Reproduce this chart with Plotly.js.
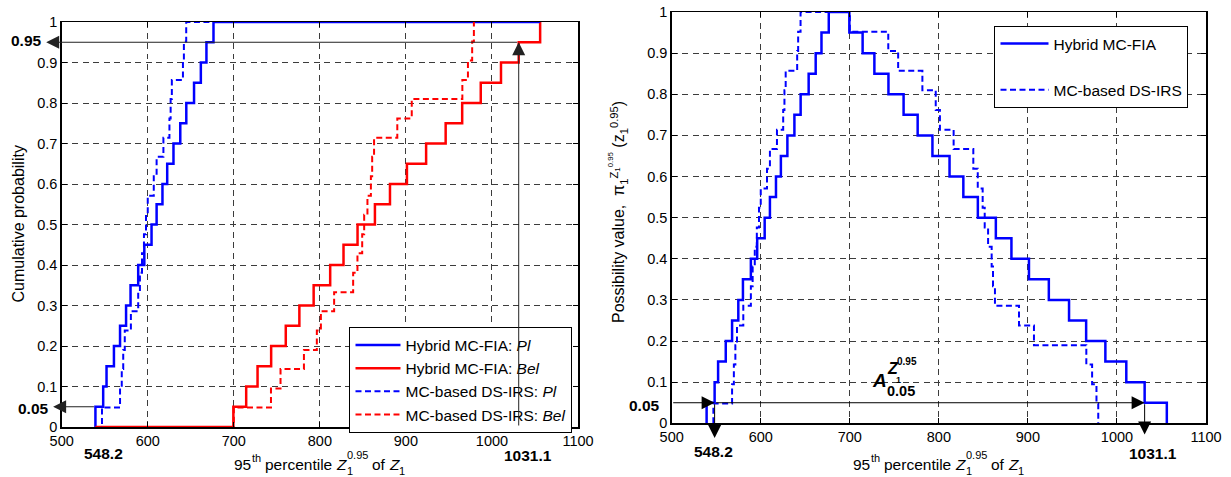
<!DOCTYPE html>
<html><head><meta charset="utf-8">
<script src="https://cdn.plot.ly/plotly-3.0.1.min.js"></script>
<style>html,body{margin:0;padding:0;background:#fff}#chart{width:1231px;height:477px}</style>
</head><body><div id="chart"></div>
<script>
// ---------------- data ----------------
// sorted sample values (step positions) of the 95th percentile of Z1
const plHybrid  = [539.2,548.2,552.1,560.7,567.8,574.8,580.0,588.9,596.0,604.4,610.3,617.1,622.6,629.9,637.8,644.8,653.8,661.7,668.2,676.4];
const belHybrid = [699.5,714.4,727.6,743.4,760.4,776.2,792.8,812.0,827.5,843.8,864.0,881.5,901.2,923.5,946.2,965.4,987.0,1010.5,1031.1,1056.0];
const plDsIrs   = [546.8,567.8,569.8,571.5,573.3,580.4,588.9,590.9,593.3,595.6,598.0,600.0,607.0,610.3,618.2,625.2,626.6,628.0,640.9,642.0,644.7];
const belDsIrs  = [700.0,743.2,754.3,781.5,796.5,801.2,816.6,838.7,843.7,849.2,851.5,855.3,859.3,860.8,863.0,890.0,906.8,965.6,972.1,977.0,979.0];
// probability levels reached at each step
const levels20 = [0.05,0.10,0.15,0.20,0.25,0.30,0.35,0.40,0.45,0.50,0.55,0.60,0.65,0.70,0.75,0.80,0.85,0.90,0.95,1.00];
const fall20   = [0.95,0.90,0.85,0.80,0.75,0.70,0.65,0.60,0.55,0.50,0.45,0.40,0.35,0.30,0.25,0.20,0.15,0.10,0.05,0.00];
const levels21 = [0.048,0.095,0.143,0.190,0.238,0.286,0.333,0.381,0.429,0.476,0.524,0.571,0.619,0.667,0.714,0.762,0.810,0.857,0.905,0.952,1.000];
const fall21   = [0.952,0.905,0.857,0.810,0.762,0.714,0.667,0.619,0.571,0.524,0.476,0.429,0.381,0.333,0.286,0.238,0.190,0.143,0.095,0.048,0.000];
// annotated values
const alphaHigh = 0.95, alphaLow = 0.05;
const zLow = 548.2, zHigh = 1031.1;
const xTicks = [500,600,700,800,900,1000,1100];
const legendLeft = ['Hybrid MC-FIA: <i>Pl</i>','Hybrid MC-FIA: <i>Bel</i>','MC-based DS-IRS: <i>Pl</i>','MC-based DS-IRS: <i>Bel</i>'];
const legendRight = ['Hybrid MC-FIA','MC-based DS-IRS'];

// ---------------- layout helpers ----------------
const W = 1231, H = 477;
const FONT = '"Liberation Sans", Arial, Helvetica, sans-serif';
const X = p => p / W, Y = p => 1 - p / H;
const BLUE = '#0000ff', RED = '#ff0000';
const DASH = '6px,3.5px';
const xStart = plHybrid[0], xEnd = belHybrid[belHybrid.length - 1];

const traces = [
  {x:[xStart, ...plHybrid, xEnd], y:[0, ...levels20, 1], xaxis:'x', yaxis:'y', mode:'lines',
   line:{shape:'hv', color:BLUE, width:2.5}, name:legendLeft[0], legend:'legend'},
  {x:[xStart, ...belHybrid], y:[0, ...levels20], xaxis:'x', yaxis:'y', mode:'lines',
   line:{shape:'hv', color:RED, width:2.5}, name:legendLeft[1], legend:'legend'},
  {x:[xStart, ...plDsIrs, xEnd], y:[0, ...levels21, 1], xaxis:'x', yaxis:'y', mode:'lines',
   line:{shape:'hv', color:BLUE, width:2, dash:DASH}, name:legendLeft[2], legend:'legend'},
  {x:[xStart, ...belDsIrs], y:[0, ...levels21], xaxis:'x', yaxis:'y', mode:'lines',
   line:{shape:'hv', color:RED, width:2, dash:DASH}, name:legendLeft[3], legend:'legend'},
  {x:[plHybrid[0], ...plHybrid, ...belHybrid], y:[0, ...levels20, ...fall20], xaxis:'x2', yaxis:'y2', mode:'lines',
   line:{shape:'hv', color:BLUE, width:2.5}, name:legendRight[0], legend:'legend2', legendgroup:'g1'},
  {x:[plDsIrs[0], ...plDsIrs, ...belDsIrs], y:[0, ...levels21, ...fall21], xaxis:'x2', yaxis:'y2', mode:'lines',
   line:{shape:'hv', color:BLUE, width:2, dash:DASH}, name:legendRight[1], legend:'legend2', legendgroup:'g2'}
];

const axCommon = {
  showgrid:true, gridcolor:'#3c3c3c', gridwidth:1, griddash:'6px,4.5px', zeroline:false,
  showline:true, linecolor:'#000', linewidth:1.5, mirror:'allticks', ticks:'inside', ticklen:5,
  tickcolor:'#000', tickwidth:1, tickfont:{family:FONT, size:14.5, color:'#000'}, fixedrange:true, automargin:false
};
const layout = {
  width:W, height:H, margin:{l:0,r:0,t:0,b:0}, paper_bgcolor:'#fff', plot_bgcolor:'#fff',
  font:{family:FONT, color:'#000'}, showlegend:true,
  xaxis:Object.assign({}, axCommon, {domain:[X(61.7), X(578)], range:[500,1100], tickvals:xTicks, anchor:'y'}),
  yaxis:Object.assign({}, axCommon, {domain:[Y(427), Y(22)], range:[0,1], dtick:0.1, anchor:'x'}),
  xaxis2:Object.assign({}, axCommon, {domain:[X(671.7), X(1206)], range:[500,1100], tickvals:xTicks, anchor:'y2'}),
  yaxis2:Object.assign({}, axCommon, {domain:[Y(423.3), Y(12)], range:[0,1], dtick:0.1, anchor:'x2'}),
  legend:{x:X(349.3), y:Y(327.3), xanchor:'left', yanchor:'top', bgcolor:'#fff', bordercolor:'#000', borderwidth:1.2,
          font:{family:FONT, size:15.5, color:'#000'}, itemwidth:45, tracegroupgap:0},
  legend2:{x:X(994.3), y:Y(25.7), xanchor:'left', yanchor:'top', bgcolor:'#fff', bordercolor:'#000', borderwidth:1.2,
          font:{family:FONT, size:15.5, color:'#000'}, itemwidth:48, tracegroupgap:23},
  annotations:[], shapes:[]
};
const A = layout.annotations;

// arrows
function arrow(xr, yr, x, y, ax, ay, color){
  A.push({xref:xr, yref:yr, axref:xr, ayref:yr, x:x, y:y, ax:ax, ay:ay, text:'', showarrow:true,
          arrowhead:2, arrowsize:2.6, arrowwidth:1, arrowcolor:color, standoff:0, startstandoff:0});
}
arrow('x','y', 482, alphaHigh, zHigh, alphaHigh, '#222');
arrow('x','y', zHigh, alphaHigh, zHigh, 0, '#222');
arrow('x','y', 490, alphaLow, plHybrid[0], alphaLow, '#222');
arrow('x2','y2', zLow, alphaLow, 500, alphaLow, '#000');
arrow('x2','y2', zHigh, alphaLow, zLow, alphaLow, '#000');
arrow('x2','y2', zLow, -0.036, zLow, alphaLow, '#000');
arrow('x2','y2', zHigh, -0.027, zHigh, alphaLow, '#000');

// bold value labels
function lab(text, cx, cy, size, extra){
  A.push(Object.assign({xref:'paper', yref:'paper', x:X(cx), y:Y(cy), xanchor:'center', yanchor:'middle',
    text:text, showarrow:false, borderpad:0, borderwidth:0, font:{family:FONT, size:size, color:'#000'}}, extra||{}));
}
lab('<b>0.95</b>', 27, 40.7, 15.5);
lab('<b>0.05</b>', 33, 408, 15.5);
lab('<b>548.2</b>', 103, 453.3, 15.5);
lab('<b>1031.1</b>', 528, 455, 15.5);
lab('<b>0.05</b>', 644, 405.7, 15.5);
lab('<b>548.2</b>', 714, 451.7, 15.5);
lab('<b>1031.1</b>', 1153, 453.3, 15.5);

// A_{0.05}^{Z_1^{0.95}}
lab('<b><i>A</i></b>', 879, 380, 19);
lab('<b><i>Z</i></b>', 893.3, 368, 16);
lab('<b>0.95</b>', 907, 361.5, 10);
lab('<b>1</b>', 898.3, 379.5, 9);
lab('<b>0.05</b>', 901.3, 391, 14.5);

// y titles
lab('Cumulative probability', 18, 224.5, 16, {textangle:-90});
lab('Possibility value,  \u03c0<sub>1</sub><sup>Z<sub>1</sub><sup>0.95</sup></sup> (z<sub>1</sub><sup>0.95</sup>)', 618, 212, 16, {textangle:-90});

// x titles built from pieces so the sub/superscripts stack
const ctx = document.createElement('canvas').getContext('2d');
function tw(t, size, style){ ctx.font = (style||'') + ' ' + size + 'px "Liberation Sans"'; return ctx.measureText(t).width; }
function xTitle(centerX, baseY){
  const big = 15.5, small = 11;
  const parts = [
    {t:'95', s:big, dy:0},
    {t:'th', s:small, dy:-7},
    {t:' percentile ', s:big, dy:0},
    {t:'Z', s:big, dy:0, it:true},
    {stack:true, sup:'0.95', sub:'1', s:small},
    {t:' of ', s:big, dy:0},
    {t:'Z', s:big, dy:0, it:true},
    {t:'1', s:small, dy:6}
  ];
  let widths = parts.map(p => p.stack ? Math.max(tw(p.sup,p.s), tw(p.sub,p.s)) + 1 : tw(p.t, p.s, p.it ? 'italic' : ''));
  const total = widths.reduce((a,b)=>a+b,0);
  let x = centerX - total/2;
  parts.forEach((p,i)=>{
    if(p.stack){
      lab(p.sup, x + tw(p.sup,p.s)/2 + 0.5, baseY - 10, p.s);
      lab(p.sub, x + tw(p.sub,p.s)/2 + 0.5, baseY + 6, p.s);
    } else {
      const lead = p.t.length - p.t.trimStart().length;
      const txt = p.t.trim();
      const off = lead ? tw(' ', p.s) * lead : 0;
      const w = tw(txt, p.s, p.it ? 'italic' : '');
      lab(p.it ? '<i>'+txt+'</i>' : txt, x + off + w/2, baseY + p.dy, p.s);
    }
    x += widths[i];
  });
}
xTitle(319.9, 464.5);
xTitle(938.9, 464.5);

Plotly.newPlot('chart', traces, layout, {staticPlot:true, displayModeBar:false});
</script>
</body></html>
